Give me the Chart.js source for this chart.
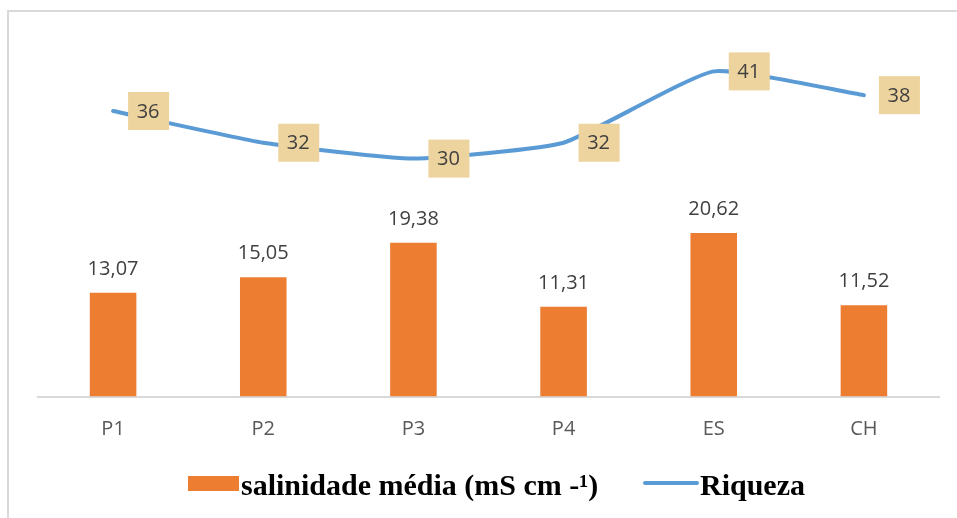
<!DOCTYPE html>
<html>
<head>
<meta charset="utf-8">
<script src="https://cdn.jsdelivr.net/npm/chart.js@4/dist/chart.umd.min.js"></script>
<style>
  html, body { margin: 0; padding: 0; background: #fff; }
  #wrap { position: relative; width: 957px; height: 518px; overflow: hidden; }
  #frame { position: absolute; left: 7px; top: 10px; width: 1000px; height: 600px; border: 2px solid #D9D9D9; box-sizing: border-box; }
  #chart { position: absolute; left: 0; top: 0; }
  #legend { position: absolute; left: 0; top: 466px; width: 957px; font-family: "Liberation Serif", "Times New Roman", serif; font-weight: bold; font-size: 30px; line-height: 34px; color: #000; }
  #legend span { position: absolute; white-space: nowrap; }
  .swatch { position: absolute; }
</style>
</head>
<body>
<div id="wrap">
  <div id="frame"></div>
  <canvas id="chart" width="957" height="518"></canvas>
  <div id="legend">
    <div class="swatch" style="left:188px;top:10px;width:51px;height:15px;background:#ED7D31"></div>
    <span style="left:241px;top:2px">salinidade média (mS cm -¹)</span>
    <div class="swatch" style="left:643px;top:15px;width:56px;height:4px;border-radius:2px;background:#5B9BD5"></div>
    <span style="left:700px;top:2px">Riqueza</span>
  </div>
</div>
<script>
// categories and values
var pontos = ['P1', 'P2', 'P3', 'P4', 'ES', 'CH'];
var salinidade = [13.07, 15.05, 19.38, 11.31, 20.62, 11.52];
var riqueza = [36, 32, 30, 32, 41, 38];

function virgula(v) {
  return v.toFixed(2).replace('.', ',');
}

// labels above bars and tan boxes next to line points
var rotulos = {
  id: 'rotulos',
  afterDatasetsDraw: function(chart) {
    var ctx = chart.ctx;
    ctx.save();
    ctx.font = '20px "Open Sans", "Liberation Sans", sans-serif';
    ctx.fillStyle = '#404040';
    ctx.textAlign = 'center';
    ctx.textBaseline = 'middle';
    chart.getDatasetMeta(1).data.forEach(function(bar, i) {
      ctx.fillText(virgula(salinidade[i]), bar.x, bar.y - 24);
    });
    chart.getDatasetMeta(0).data.forEach(function(pt, i) {
      var cx = pt.x + 35, cy = pt.y;
      ctx.fillStyle = '#EDD39D';
      ctx.fillRect(cx - 20, cy - 19, 41, 38);
      ctx.fillStyle = '#404040';
      ctx.fillText(String(riqueza[i]), cx, cy + 1);
    });
    ctx.restore();
  }
};

new Chart(document.getElementById('chart'), {
  type: 'bar',
  data: {
    labels: pontos,
    datasets: [
      {
        type: 'line',
        label: 'Riqueza',
        data: riqueza,
        borderColor: '#5B9BD5',
        borderWidth: 4,
        borderCapStyle: 'round',
        pointRadius: 0,
        tension: 0.15,
        clip: false,
        order: 0
      },
      {
        label: 'salinidade média (mS cm -¹)',
        data: salinidade,
        backgroundColor: '#ED7D31',
        barPercentage: 0.31,
        categoryPercentage: 1,
        order: 1
      }
    ]
  },
  options: {
    responsive: false,
    animation: false,
    layout: { padding: { left: 38, right: 18, top: 0, bottom: 56.5 } },
    plugins: { legend: { display: false }, tooltip: { enabled: false } },
    scales: {
      x: {
        grid: { display: false, drawTicks: false },
        border: { display: true, color: '#D9D9D9', width: 2 },
        ticks: { color: '#595959', padding: 20.5, font: { size: 20, family: '"Open Sans", "Liberation Sans", sans-serif' } }
      },
      y: { display: false, min: 0, max: 50 }
    }
  },
  plugins: [rotulos]
});
</script>
</body>
</html>
